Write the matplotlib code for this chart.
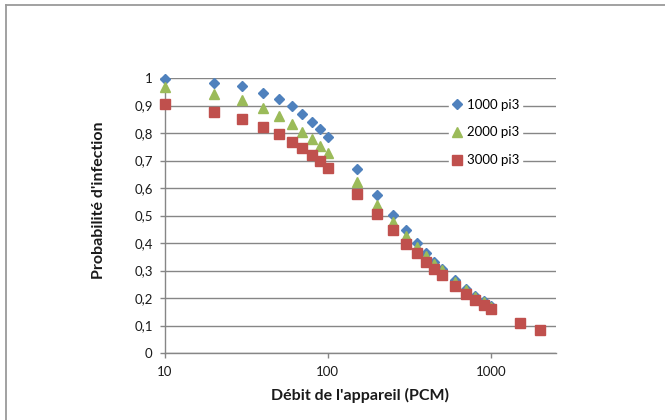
import matplotlib
matplotlib.use("Agg")
import matplotlib.pyplot as plt
from matplotlib.ticker import FixedLocator, FuncFormatter, NullLocator
from matplotlib.lines import Line2D

plt.rcParams['font.family'] = ['Lato', 'DejaVu Sans']

debit = [10, 20, 30, 40, 50, 60, 70, 80, 90, 100, 150, 200, 250, 300, 350,
         400, 450, 500, 600, 700, 800, 900, 1000, 1500, 2000]

p1000 = [0.995, 0.982, 0.970, 0.947, 0.924, 0.897, 0.869, 0.841, 0.814, 0.786,
         0.669, 0.575, 0.501, 0.447, 0.400, 0.363, 0.330, 0.307, 0.265, 0.234,
         0.209, 0.188, 0.171]
p2000 = [0.966, 0.941, 0.919, 0.892, 0.862, 0.833, 0.805, 0.777, 0.754, 0.728,
         0.621, 0.540, 0.478, 0.427, 0.387, 0.353, 0.323, 0.302, 0.258, 0.228,
         0.204, 0.184, 0.166]
p3000 = [0.907, 0.876, 0.850, 0.823, 0.795, 0.769, 0.744, 0.721, 0.697, 0.672,
         0.580, 0.505, 0.447, 0.398, 0.362, 0.331, 0.306, 0.283, 0.243, 0.215,
         0.192, 0.176, 0.160, 0.109, 0.083]

series_labels = ["1000 pi3", "2000 pi3", "3000 pi3"]
y_ticks = [0, 0.1, 0.2, 0.3, 0.4, 0.5, 0.6, 0.7, 0.8, 0.9, 1]
x_ticks = [10, 100, 1000]

fig = plt.figure(figsize=(6.65, 4.2), dpi=100)
ax = fig.add_axes([164.5 / 665, 1 - 353 / 420, (555.5 - 164.5) / 665, (353 - 78) / 420])

grid_c = "#868686"
ax.set_xscale("log")
ax.set_xlim(10, 2480)
ax.set_ylim(0, 1)
ax.yaxis.set_major_locator(FixedLocator(y_ticks))
ax.yaxis.set_major_formatter(FuncFormatter(lambda v, p: ("%g" % v).replace(".", ",")))
ax.xaxis.set_major_locator(FixedLocator(x_ticks))
ax.xaxis.set_major_formatter(FuncFormatter(lambda v, p: "%d" % v))
ax.xaxis.set_minor_locator(NullLocator())
ax.grid(axis="y", color=grid_c, linewidth=1.0, zorder=0)
ax.set_axisbelow(True)

for s in ["top", "right"]:
    ax.spines[s].set_visible(False)
for s in ["left", "bottom"]:
    ax.spines[s].set_color(grid_c)
    ax.spines[s].set_linewidth(1.0)

ax.tick_params(axis="both", which="major", color=grid_c, length=3.5, width=1.0,
               labelsize=9.5, labelcolor="#1a1a1a")
ax.tick_params(axis="y", pad=5)
ax.tick_params(axis="x", pad=6)

ax.plot(debit[:len(p1000)], p1000, linestyle="none", marker="D", markersize=4.7,
        color="#4F81BD", label=series_labels[0], zorder=3, clip_on=False)
ax.plot(debit[:len(p2000)], p2000, linestyle="none", marker="^", markersize=7.0,
        color="#9BBB59", label=series_labels[1], zorder=4, clip_on=False)
ax.plot(debit[:len(p3000)], p3000, linestyle="none", marker="s", markersize=7.3,
        color="#C0504D", label=series_labels[2], zorder=5, clip_on=False)

leg = ax.legend(loc="upper left", bbox_to_anchor=((449 - 164.5) / 391, 1 - (96 - 78) / 275),
                frameon=True, fontsize=9.5, handlelength=0.8, handletextpad=0.35,
                labelspacing=1.2, borderpad=0.2, borderaxespad=0)
leg.get_frame().set_facecolor("white")
leg.get_frame().set_edgecolor("white")
leg.get_frame().set_alpha(1)
leg.get_frame().set_boxstyle("square", pad=0)
leg.set_zorder(10)

ax.set_xlabel("Débit de l'appareil (PCM)", fontsize=11.5, fontweight="bold", color="#1a1a1a")
ax.xaxis.set_label_coords(0.5, -(388 - 353) / 275, transform=ax.transAxes)
ax.set_ylabel("Probabilité d'infection", fontsize=11.5, fontweight="bold", color="#1a1a1a")
ax.yaxis.set_label_coords(-(164.5 - 106) / 391, (353 - 200) / 275)

fig.add_artist(Line2D([6 / 665, 6 / 665], [0, 1 - 4.5 / 420], transform=fig.transFigure,
                      color="#9a9a9a", linewidth=1.3))
fig.add_artist(Line2D([6 / 665, 1], [1 - 4.5 / 420, 1 - 4.5 / 420], transform=fig.transFigure,
                      color="#9a9a9a", linewidth=1.3))

fig.savefig("out.png", dpi=100)
